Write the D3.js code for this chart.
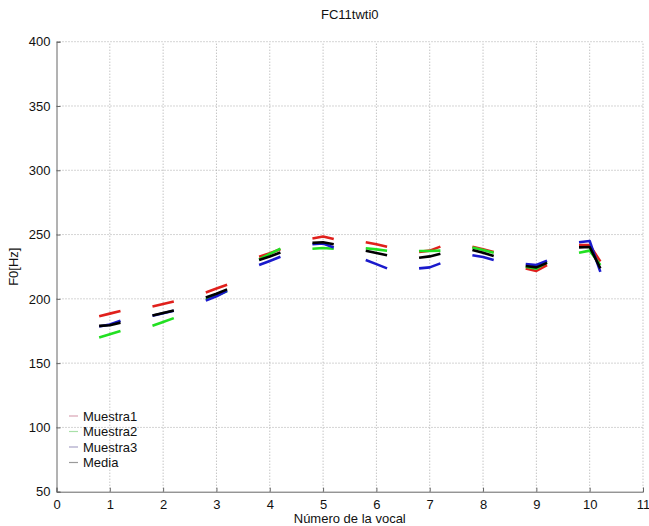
<!DOCTYPE html>
<html>
<head>
<meta charset="utf-8">
<script src="https://cdn.jsdelivr.net/npm/d3@7"></script>
<style>
  body { margin: 0; background: #fff; }
  text { font-family: "Liberation Sans", Arial, sans-serif; fill: #111; }
</style>
</head>
<body>
<div id="chart"></div>
<script>
// vowel numbers and the three sample offsets inside each vowel
const vowels = [1, 2, 3, 4, 5, 6, 7, 8, 9, 10];
const offsets = [-0.2, 0, 0.2];

// F0 values, 3 per vowel (left, middle, right)
const muestra1 = [
  186.5, 188.5, 190.5, 194, 196, 198, 205, 208, 211, 232.8, 235.5, 238.5,
  247, 248.5, 246.5, 244, 242.5, 240.6, 236.5, 237.5, 240.6, 240.5, 238.5, 236.5,
  223.7, 221.7, 226.3, 241.9, 241.9, 229
];
const muestra2 = [
  170, 172.5, 175, 179, 182, 185, 199.5, 202.5, 206, 230.7, 235, 239,
  239, 239.5, 239, 239.3, 238.5, 237.4, 237.2, 237.2, 237.5, 240, 238, 235.9,
  225, 223.5, 228.5, 235.9, 237.5, 226.3
];
const muestra3 = [
  178.5, 180, 183, 186.8, 188.8, 190.8, 198.6, 202, 206.3, 226.3, 229.5, 232.8,
  242.5, 243, 240, 230.2, 227, 223.7, 223.7, 224.5, 227.6, 233.9, 232.5, 230.2,
  227, 226.3, 229.7, 244, 245, 221
];
const media = [
  179, 179.5, 181.5, 187, 189, 191, 201, 204, 207.4, 230.2, 233, 236,
  243.5, 244, 242.5, 237.4, 235.7, 233.9, 232, 233, 235, 238, 235.8, 233.3,
  225.5, 224.5, 228, 240, 240.3, 223.7
];

const xTicks = d3.range(0, 12);
const yTicks = [50, 100, 150, 200, 250, 300, 350, 400];

const series = [
  { name: "Muestra1", values: muestra1, color: "#e0201c", legend: "#d9a3b5" },
  { name: "Muestra2", values: muestra2, color: "#22e022", legend: "#a8e0a8" },
  { name: "Muestra3", values: muestra3, color: "#1a1acc", legend: "#a9a3c6" },
  { name: "Media", values: media, color: "#000000", legend: "#9a9a9a" }
];

const width = 649;
const height = 526;
const margin = { top: 41.7, right: 6, bottom: 34.3, left: 56.5 };

const x = d3.scaleLinear().domain([0, 11]).range([margin.left, width - margin.right]);
const y = d3.scaleLinear().domain([50, 400]).range([height - margin.bottom, margin.top]);

const svg = d3.select("#chart")
  .append("svg")
  .attr("width", width)
  .attr("height", height);

// dotted grid
svg.append("g")
  .selectAll("line")
  .data(xTicks.slice(1))
  .enter()
  .append("line")
  .attr("x1", d => x(d)).attr("x2", d => x(d))
  .attr("y1", y(50)).attr("y2", y(400))
  .attr("stroke", "#aaa")
  .attr("stroke-width", 1)
  .attr("stroke-dasharray", "1,2");

svg.append("g")
  .selectAll("line")
  .data(yTicks.slice(1))
  .enter()
  .append("line")
  .attr("x1", x(0)).attr("x2", x(11))
  .attr("y1", d => y(d)).attr("y2", d => y(d))
  .attr("stroke", "#aaa")
  .attr("stroke-width", 1)
  .attr("stroke-dasharray", "1,2");

// axes, matlab style ticks pointing inward
const xAxis = svg.append("g")
  .attr("transform", `translate(0,${y(50)})`)
  .call(d3.axisBottom(x).tickValues(xTicks).tickSize(-4).tickPadding(8).tickFormat(d3.format("d")));
const yAxis = svg.append("g")
  .attr("transform", `translate(${x(0)},0)`)
  .call(d3.axisLeft(y).tickValues(yTicks).tickSize(-4).tickPadding(6));

[xAxis, yAxis].forEach(ax => {
  ax.select(".domain").attr("stroke", "#666").attr("stroke-width", 1);
  ax.selectAll(".tick line").attr("stroke", "#666");
  ax.selectAll(".tick text").attr("font-size", 13).attr("fill", "#111");
});

// segments, one line per vowel per series
const line = d3.line()
  .x(d => x(d.x))
  .y(d => y(d.v));

series.forEach(s => {
  const segs = vowels.map((v, i) =>
    offsets.map((o, j) => ({ x: v + o, v: s.values[i * 3 + j] }))
  );
  svg.append("g")
    .selectAll("path")
    .data(segs)
    .enter()
    .append("path")
    .attr("d", line)
    .attr("fill", "none")
    .attr("stroke", s.color)
    .attr("stroke-width", 2.6)
    .attr("stroke-linejoin", "round");
});

// legend, no box
const legend = svg.append("g");
series.forEach((s, i) => {
  const ly = 416 + i * 15.5;
  legend.append("line")
    .attr("x1", 69).attr("x2", 78)
    .attr("y1", ly).attr("y2", ly)
    .attr("stroke", s.legend)
    .attr("stroke-width", 1.2);
  legend.append("text")
    .attr("x", 83).attr("y", ly)
    .attr("dy", "0.35em")
    .attr("font-size", 13)
    .text(s.name);
});

// labels
svg.append("text")
  .attr("x", (x(0) + x(11)) / 2)
  .attr("y", 19)
  .attr("text-anchor", "middle")
  .attr("font-size", 13)
  .text("FC11twti0");

svg.append("text")
  .attr("x", (x(0) + x(11)) / 2)
  .attr("y", 523)
  .attr("text-anchor", "middle")
  .attr("font-size", 13)
  .text("Número de la vocal");

svg.append("text")
  .attr("transform", `translate(18,${(y(50) + y(400)) / 2}) rotate(-90)`)
  .attr("text-anchor", "middle")
  .attr("font-size", 13)
  .text("F0[Hz]");
</script>
</body>
</html>
